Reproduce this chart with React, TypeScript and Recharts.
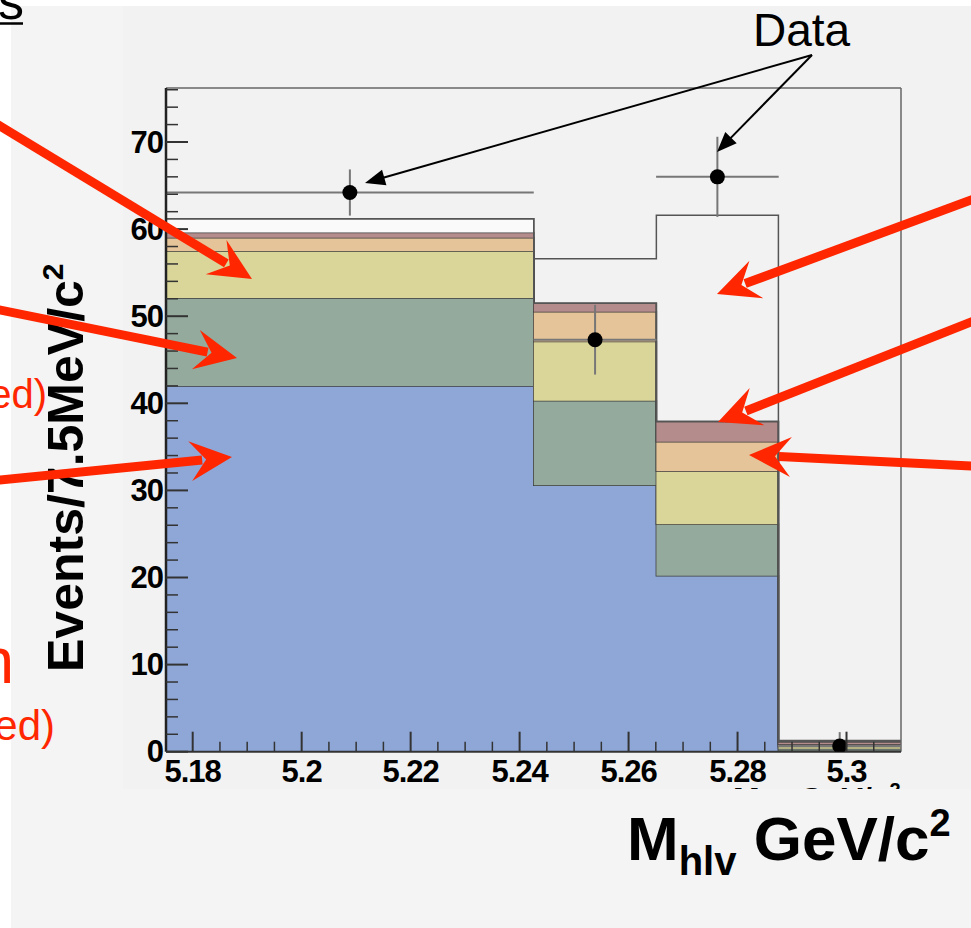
import React from 'react';
import { ComposedChart, Area, Line, Scatter, ErrorBar, XAxis, YAxis, ReferenceLine } from 'recharts';

// ---- data ----
const binEdges = [5.1751, 5.1976, 5.2201, 5.2426, 5.2651, 5.2875, 5.31];
const bkgBlue = [42.0, 42.0, 42.0, 30.6, 20.2, 0.15];
const bkgGreen = [10.1, 10.1, 10.1, 9.7, 5.9, 0.2];
const bkgYellow = [5.4, 5.4, 5.4, 6.8, 6.1, 0.25];
const bkgOrange = [1.5, 1.5, 1.5, 3.4, 3.4, 0.25];
const bkgMauve = [0.6, 0.6, 0.6, 1.0, 2.3, 0.3];
const bkgWhite = [1.6, 1.6, 1.6, 0, 0, 0];
const totalOutline = [61.2, 61.2, 61.2, 56.6, 61.6, 1.3];

const dataX = [5.20885, 5.25385, 5.2763, 5.29875];
const dataY = [64.2, 47.3, 66.0, 0.65];
const dataXErr = [0.03375, 0.01125, 0.01125, 0.01125];
const dataYErrLow = [2.65, 4.0, 4.6, 0.65];
const dataYErrHigh = [2.65, 4.0, 4.6, 1.6];

const xMajorTicks = [5.18, 5.2, 5.22, 5.24, 5.26, 5.28, 5.3];
const xTickLabels = ['5.18', '5.2', '5.22', '5.24', '5.26', '5.28', '5.3'];
const yMajorTicks = [0, 10, 20, 30, 40, 50, 60, 70];
const xDomain = [5.1751, 5.31];
const yDomain = [0, 76.2];

// tables built from the arrays
const histTable = binEdges.map((x, i) => {
  const j = Math.min(i, binEdges.length - 2);
  return {
    x,
    blue: bkgBlue[j],
    green: bkgGreen[j],
    yellow: bkgYellow[j],
    orange: bkgOrange[j],
    mauve: bkgMauve[j],
    white: bkgWhite[j],
    total: totalOutline[j],
  };
});
const points = dataX.map((x, i) => ({
  x,
  y: dataY[i],
  ex: dataXErr[i],
  ey: [dataYErrLow[i], dataYErrHigh[i]],
}));
const xTicks = Array.from({ length: 26 }, (_, i) => Math.round((5.18 + i * 0.005) * 1000) / 1000);
const yTicks = Array.from({ length: 39 }, (_, i) => i * 2);

const FONT = '"Liberation Sans", Arial, Helvetica, sans-serif';
const RED = '#ff2600';

const XTick = (props: any) => {
  const { x, y, payload } = props;
  const v = payload.value;
  const idx = xMajorTicks.findIndex((m) => Math.abs(m - v) < 1e-6);
  const major = idx >= 0;
  return (
    <g>
      <line x1={x} x2={x} y1={y} y2={y - (major ? 20 : 10)} stroke="#333" strokeWidth={major ? 2 : 1.5} />
      {major && (
        <text x={x} y={y + 30} textAnchor="middle" fontFamily={FONT} fontWeight="bold" fontSize={31} letterSpacing={-1} fill="#000">
          {xTickLabels[idx]}
        </text>
      )}
    </g>
  );
};

const YTick = (props: any) => {
  const { x, y, payload } = props;
  const v = payload.value;
  const major = yMajorTicks.includes(v);
  return (
    <g>
      <line x1={x} x2={x + (major ? 22 : 12)} y1={y} y2={y} stroke="#333" strokeWidth={major ? 2 : 1.5} />
      {major && (
        <text x={x - 3} y={y + 10.5} textAnchor="end" fontFamily={FONT} fontWeight="bold" fontSize={31} letterSpacing={-1} fill="#000">
          {String(v)}
        </text>
      )}
    </g>
  );
};

const DataDot = (props: any) => <circle cx={props.cx} cy={props.cy} r={7.5} fill="#000" />;

function redArrow(x1: number, y1: number, x2: number, y2: number, key: string) {
  const dx = x2 - x1, dy = y2 - y1;
  const L = Math.hypot(dx, dy);
  const ux = dx / L, uy = dy / L;
  const nx = -uy, ny = ux;
  const hl = 42, hw = 20, notch = 26;
  const bx = x2 - ux * hl, by = y2 - uy * hl;
  const pts = [
    [x2, y2],
    [bx + nx * hw, by + ny * hw],
    [x2 - ux * notch, y2 - uy * notch],
    [bx - nx * hw, by - ny * hw],
  ].map((p) => p.join(',')).join(' ');
  return (
    <g key={key}>
      <line x1={x1 - ux * 30} y1={y1 - uy * 30} x2={x2 - ux * (notch + 4)} y2={y2 - uy * (notch + 4)} stroke={RED} strokeWidth={9} />
      <polygon points={pts} fill={RED} />
    </g>
  );
}

function blackArrow(x1: number, y1: number, x2: number, y2: number, key: string) {
  const dx = x2 - x1, dy = y2 - y1;
  const L = Math.hypot(dx, dy);
  const ux = dx / L, uy = dy / L;
  const nx = -uy, ny = ux;
  const hl = 20, hw = 8;
  const bx = x2 - ux * hl, by = y2 - uy * hl;
  const pts = [
    [x2, y2],
    [bx + nx * hw, by + ny * hw],
    [bx - nx * hw, by - ny * hw],
  ].map((p) => p.join(',')).join(' ');
  return (
    <g key={key}>
      <line x1={x1} y1={y1} x2={bx + ux * 2} y2={by + uy * 2} stroke="#000" strokeWidth={2} />
      <polygon points={pts} fill="#000" />
    </g>
  );
}

export default function App() {
  return (
    <div style={{ position: 'absolute', left: 0, top: 0, width: 971, height: 928, background: '#ffffff', overflow: 'hidden' }}>
      <div style={{ position: 'absolute', left: 11, top: 6, width: 960, height: 922, background: '#f4f4f4' }} />
      <div style={{ position: 'absolute', left: 123, top: 6, width: 848, height: 783, background: '#f2f2f2' }} />
      <div style={{ position: 'absolute', left: 0, top: 0 }}>
        <ComposedChart width={971} height={928} data={histTable} margin={{ top: 88, right: 70, bottom: 146.3, left: 106 }}>
          <XAxis
            dataKey="x"
            type="number"
            domain={xDomain}
            allowDataOverflow
            ticks={xTicks}
            interval={0}
            tick={<XTick />}
            tickSize={0}
            tickMargin={0}
            tickLine={false}
            height={30}
            axisLine={{ stroke: '#333', strokeWidth: 2 }}
          />
          <YAxis
            type="number"
            domain={yDomain}
            allowDataOverflow
            ticks={yTicks}
            interval={0}
            tick={<YTick />}
            tickSize={0}
            tickMargin={0}
            tickLine={false}
            width={60}
            axisLine={{ stroke: '#222', strokeWidth: 2.5 }}
          />
          <Area type="stepAfter" dataKey="blue" stackId="s" fill="#8fa7d7" fillOpacity={1} stroke="#3c3c3c" strokeWidth={1.5} isAnimationActive={false} />
          <Area type="stepAfter" dataKey="green" stackId="s" fill="#94aa9d" fillOpacity={1} stroke="#3c3c3c" strokeWidth={1.5} isAnimationActive={false} />
          <Area type="stepAfter" dataKey="yellow" stackId="s" fill="#dad69a" fillOpacity={1} stroke="#3c3c3c" strokeWidth={1.5} isAnimationActive={false} />
          <Area type="stepAfter" dataKey="orange" stackId="s" fill="#e4c498" fillOpacity={1} stroke="#3c3c3c" strokeWidth={1.5} isAnimationActive={false} />
          <Area type="stepAfter" dataKey="mauve" stackId="s" fill="#b48c8c" fillOpacity={1} stroke="#3c3c3c" strokeWidth={1.5} isAnimationActive={false} />
          <Area type="stepAfter" dataKey="white" stackId="s" fill="#fafafa" fillOpacity={1} stroke="#555" strokeWidth={1.5} isAnimationActive={false} />
          <Line type="stepAfter" dataKey="total" stroke="#555" strokeWidth={1.5} dot={false} activeDot={false} isAnimationActive={false} />
          <ReferenceLine y={yDomain[1]} stroke="#666" strokeWidth={1.5} />
          <ReferenceLine x={xDomain[1]} stroke="#666" strokeWidth={1.5} />
          <Scatter data={points} dataKey="y" shape={<DataDot />} isAnimationActive={false}>
            <ErrorBar dataKey="ex" direction="x" width={0} stroke="#777" strokeWidth={2} />
            <ErrorBar dataKey="ey" direction="y" width={0} stroke="#777" strokeWidth={2} />
          </Scatter>
        </ComposedChart>
      </div>
      {/* clipped ROOT axis title under the tick labels */}
      <svg width={971} height={789} style={{ position: 'absolute', left: 0, top: 0, overflow: 'hidden', pointerEvents: 'none' }}>
        <text x={733} y={810} fontFamily={FONT} fontWeight="bold" fontSize={32} fill="#000">
          M<tspan fontSize={21} dy={6}>hlv</tspan>
          <tspan dy={-6}> GeV/c</tspan>
          <tspan fontSize={20} dy={-13}>2</tspan>
        </text>
      </svg>
      <svg width={971} height={928} style={{ position: 'absolute', left: 0, top: 0, pointerEvents: 'none' }}>
        {/* slide texts */}
        <text x={24} y={19} textAnchor="end" fontFamily={FONT} fontSize={52} fill="#000">Backgrounds</text>
        <line x1={0} x2={23} y1={23.5} y2={23.5} stroke="#000" strokeWidth={2.5} />
        <text x={47} y={408} textAnchor="end" fontFamily={FONT} fontSize={40} fill={RED}>(fixed)</text>
        <text x={14} y={683} textAnchor="end" fontFamily={FONT} fontSize={64} fill={RED}>Signal region</text>
        <text x={55} y={740} textAnchor="end" fontFamily={FONT} fontSize={42} fill={RED}>(fixed)</text>

        {/* axis titles */}
        <text x={83} y={672} transform="rotate(-90, 83, 672)" fontFamily={FONT} fontWeight="bold" fontSize={50} fill="#000">
          Events/7.5MeV/c<tspan fontSize={30} dy={-20}>2</tspan>
        </text>
        <text x={627} y={860} fontFamily={FONT} fontWeight="bold" fontSize={62} fill="#000">
          M<tspan fontSize={40} dy={15}>hlv</tspan>
          <tspan dy={-15}> GeV/c</tspan>
          <tspan fontSize={38} dy={-24}>2</tspan>
        </text>

        {/* Data annotation */}
        <text x={753} y={46} fontFamily={FONT} fontSize={46} fill="#000">Data</text>
        {blackArrow(812, 55, 365, 183, 'b1')}
        {blackArrow(812, 55, 717, 152, 'b2')}

        {/* red arrows */}
        {redArrow(0, 126, 252, 279, 'r1')}
        {redArrow(0, 310, 237, 358, 'r2')}
        {redArrow(0, 480, 232, 457, 'r3')}
        {redArrow(971, 200, 717, 294, 'r4')}
        {redArrow(971, 322, 718, 422, 'r5')}
        {redArrow(971, 466, 749, 455, 'r6')}
      </svg>
    </div>
  );
}
